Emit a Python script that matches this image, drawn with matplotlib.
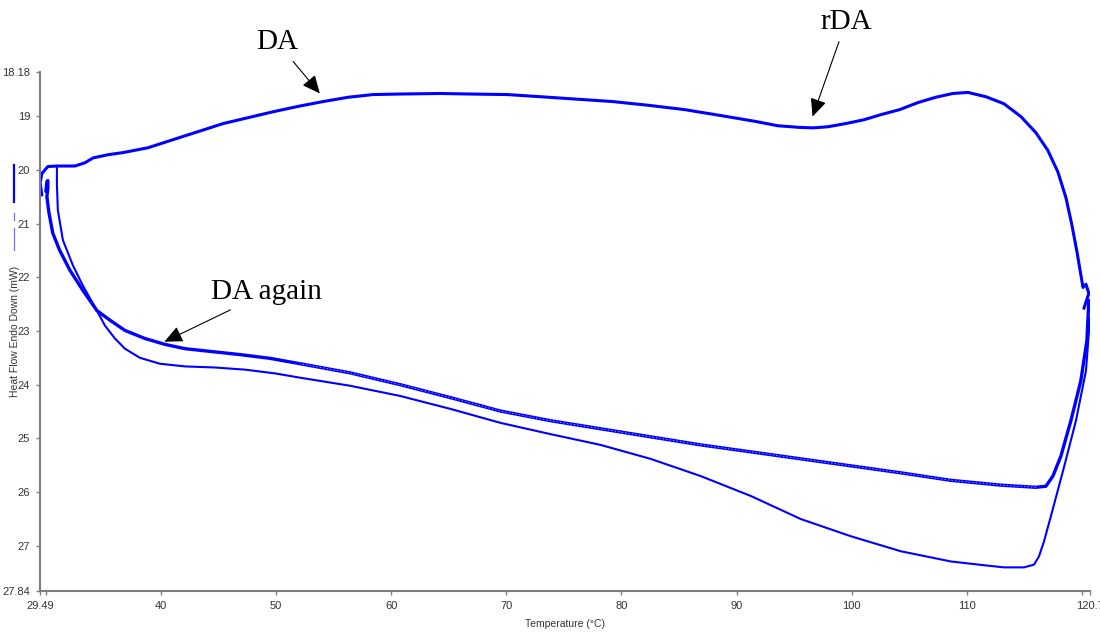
import matplotlib
matplotlib.use("Agg")
import matplotlib.pyplot as plt
from matplotlib.lines import Line2D

# Heating scan (upper trace), temperature in °C and heat flow in mW
heat_T = [29.65, 29.50, 29.65, 30.17, 30.96, 32.52, 33.39, 34.09, 35.39, 36.70,
          38.87, 41.04, 43.22, 45.39, 47.57, 49.74, 51.91, 54.09, 56.26, 58.43,
          60.78, 64.26, 66.87, 70.09, 72.96, 79.22, 82.35, 85.48, 88.61, 91.65,
          93.57, 95.39, 96.60, 97.91, 99.48, 101.04, 102.60, 104.17, 105.74,
          107.30, 108.78, 110.09, 111.65, 113.22, 114.70, 116.00, 117.04, 117.91,
          118.61, 119.13, 119.57, 119.91, 120.09, 120.35, 120.60, 120.17]
heat_HF = [20.47, 20.24, 20.07, 19.94, 19.93, 19.93, 19.87, 19.78, 19.72, 19.68,
           19.59, 19.44, 19.29, 19.14, 19.03, 18.92, 18.82, 18.73, 18.65, 18.60,
           18.59, 18.58, 18.59, 18.60, 18.64, 18.73, 18.80, 18.88, 18.99, 19.10,
           19.18, 19.21, 19.22, 19.20, 19.14, 19.07, 18.97, 18.88, 18.75,
           18.65, 18.58, 18.56, 18.64, 18.77, 19.01, 19.31, 19.64, 20.04,
           20.52, 21.03, 21.53, 21.96, 22.19, 22.13, 22.30, 22.58]

# First cooling scan (returns along the middle trace)
cool1_T = [120.60, 120.43, 119.90, 119.04, 118.17, 117.48, 116.87, 116.00,
           112.96, 108.60, 104.26, 99.91, 95.57, 91.22, 86.87, 82.52, 78.17,
           73.83, 69.48, 65.13, 60.78, 56.43, 52.09, 49.48, 46.87, 44.26, 42.09,
           40.35, 38.60, 36.87, 35.57, 34.43, 33.20, 32.09, 31.20, 30.60, 30.26,
           30.09, 30.17, 30.17, 30.09, 30.00]
cool1_HF = [22.43, 23.18, 23.93, 24.67, 25.33, 25.70, 25.89, 25.91,
            25.87, 25.78, 25.64, 25.51, 25.38, 25.25, 25.12, 24.97, 24.82,
            24.67, 24.49, 24.24, 24.00, 23.78, 23.61, 23.51, 23.44, 23.38, 23.33,
            23.25, 23.14, 22.99, 22.80, 22.62, 22.24, 21.87, 21.50, 21.18, 20.79,
            20.50, 20.35, 20.20, 20.22, 20.40]

# Second cooling scan (lowest trace)
cool2_T = [120.70, 120.35, 119.48, 118.35, 117.30, 116.70, 116.26, 115.83,
           114.96, 113.22, 111.48, 108.61, 104.26, 99.91, 95.57, 91.22, 86.87,
           82.52, 78.17, 73.83, 69.48, 65.13, 60.78, 56.43, 52.09, 49.91, 47.30,
           44.70, 42.09, 39.91, 38.17, 36.87, 36.00, 35.13, 34.43, 33.20, 32.35,
           31.48, 31.04, 30.96, 30.96]
cool2_HF = [22.75, 23.74, 24.67, 25.61, 26.45, 26.92, 27.20, 27.35,
            27.40, 27.40, 27.36, 27.29, 27.10, 26.82, 26.50, 26.07, 25.70,
            25.38, 25.12, 24.92, 24.71, 24.45, 24.21, 24.02, 23.87, 23.79, 23.72,
            23.68, 23.66, 23.61, 23.50, 23.33, 23.14, 22.90, 22.62, 22.15, 21.78,
            21.31, 20.75, 20.28, 19.94]

x_ticks = [29.49, 30, 40, 50, 60, 70, 80, 90, 100, 110, 120, 120.7]
x_tick_labels = ["29.49", "", "40", "50", "60", "70", "80", "90", "100", "110", "", "120.7"]
y_ticks = [18.18, 19, 20, 21, 22, 23, 24, 25, 26, 27, 27.84]
y_tick_labels = ["18.18", "19", "20", "21", "22", "23", "24", "25", "26", "27", "27.84"]

# Annotation labels: (text, arrow tip T, arrow tip HF, text T, text HF)
notes = [("DA", 53.8, 18.58, 50.1, 17.63),
         ("rDA", 96.6, 19.01, 99.5, 17.25),
         ("DA again", 40.3, 23.20, 49.2, 22.28)]

tick_font = ["Liberation Sans Narrow", "Liberation Sans", "DejaVu Sans"]
note_font = ["Liberation Serif", "DejaVu Serif"]
axis_grey = "#7f7f7f"
trace_blue = "#0000ff"

fig = plt.figure(figsize=(11, 6.35), dpi=100)
ax = fig.add_axes([40 / 1100, 1 - 591 / 635, 1050 / 1100, 519 / 635])

ax.plot(heat_T, heat_HF, color=trace_blue, lw=2.2,
        solid_capstyle="round", solid_joinstyle="round")
ax.plot(cool1_T, cool1_HF, color=trace_blue, lw=2.4,
        solid_capstyle="round", solid_joinstyle="round")
ax.plot(cool2_T, cool2_HF, color=trace_blue, lw=1.5,
        solid_capstyle="round", solid_joinstyle="round")

# thin light seam along the doubled part of the first cooling trace
seam = [(t, h) for t, h in zip(cool1_T, cool1_HF) if 50 <= t <= 116]
ax.plot([p[0] for p in seam], [p[1] for p in seam], color="#c8c8ff",
        lw=0.5, ls=(0, (2, 3)))

ax.set_xlim(29.49, 120.7)
ax.set_ylim(27.84, 18.18)

ax.set_xticks(x_ticks)
ax.set_xticklabels(x_tick_labels, family=tick_font, fontsize=8, color="#333333")
ax.set_yticks(y_ticks)
ax.set_yticklabels(y_tick_labels, family=tick_font, fontsize=8, color="#333333")
ax.tick_params(direction="out", length=3, width=1, color=axis_grey, pad=4)

for side in ("top", "right"):
    ax.spines[side].set_visible(False)
for side in ("left", "bottom"):
    ax.spines[side].set_color(axis_grey)
    ax.spines[side].set_linewidth(1.5)

ax.set_xlabel("Temperature (°C)", family=tick_font, fontsize=7.5, color="#333333",
              labelpad=6)
fig.text(15 / 1100, 1 - 331 / 635, "Heat Flow Endo Down (mW)", rotation=90,
         ha="center", va="center", family=tick_font, fontsize=7.5, color="#333333")

# curve-style markers beside the heat-flow axis
fig.add_artist(Line2D([14 / 1100] * 2, [1 - 165 / 635, 1 - 202 / 635],
                      color=trace_blue, lw=1.6))
fig.add_artist(Line2D([14 / 1100] * 2, [1 - 213 / 635, 1 - 220 / 635],
                      color="#7070ff", lw=0.9))
fig.add_artist(Line2D([14 / 1100] * 2, [1 - 228 / 635, 1 - 250 / 635],
                      color="#7070ff", lw=0.9))

for text, tip_t, tip_h, txt_t, txt_h in notes:
    ax.annotate(text, xy=(tip_t, tip_h), xytext=(txt_t, txt_h),
                ha="center", va="center", family=note_font, fontsize=21,
                color="black", annotation_clip=False,
                arrowprops=dict(arrowstyle="-|>,head_length=0.55,head_width=0.25",
                                mutation_scale=20, color="black", lw=0.8,
                                shrinkA=3, shrinkB=0))

fig.savefig("out.png", dpi=100)
